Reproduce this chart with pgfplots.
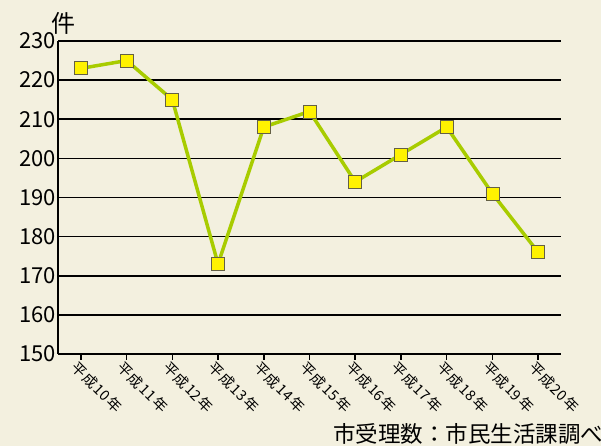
\documentclass[border=0pt]{standalone}
\usepackage{pgfplots}
\pgfplotsset{compat=1.18}
\usepackage{fontspec}
\setmainfont{Noto Sans CJK JP}
\definecolor{bg}{HTML}{F3F0DF}
\definecolor{lg}{HTML}{A8CC00}
\definecolor{mk}{HTML}{FFF200}
\newcommand{\yl}[1]{平成\hspace{2pt}#1\hspace{2pt}年}
\begin{document}
\begin{tikzpicture}
\useasboundingbox (0pt,0pt) rectangle (601pt,446pt);
\fill[bg] (0pt,0pt) rectangle (601pt,446pt);
\begin{axis}[
  at={(58pt,92pt)}, anchor=south west,
  scale only axis, width=503pt, height=313pt,
  xmin=-0.5, xmax=10.5, ymin=150, ymax=230,
  axis x line*=bottom, axis y line*=left,
  axis line style={line width=1.8pt, -},
  xtick={0,...,10},
  xticklabels={\yl{10},\yl{11},\yl{12},\yl{13},\yl{14},\yl{15},\yl{16},\yl{17},\yl{18},\yl{19},\yl{20}},
  x tick label style={rotate=-45, anchor=north west, font=\fontsize{14.5}{15}\selectfont, xshift=-2pt, yshift=0pt, inner sep=1pt},
  ytick={150,160,...,230},
  y tick label style={font=\fontsize{22}{24}\selectfont, inner sep=2pt},
  /pgf/number format/assume math mode=true,
  ymajorgrids, grid style={black, line width=1.6pt},
  major tick length=6pt,
  tick style={black, line width=1.5pt},
  ytick style={draw=none},
  xtick align=outside,
]
\addplot[lg, line width=3.5pt, mark=square*, mark size=6.5pt,
  mark options={fill=mk, draw=black!70!yellow, line width=0.8pt}]
  coordinates {(0,223)(1,225)(2,215)(3,173)(4,208)(5,212)(6,194)(7,201)(8,208)(9,191)(10,176)};
\end{axis}
\node[font=\fontsize{24}{26}\selectfont] at (63pt,423pt) {件};
\node[anchor=base west, font=\fontsize{22.5}{24}\selectfont, inner sep=0pt] at (333pt,3pt) {市受理数：市民生活課調べ};
\end{tikzpicture}
\end{document}
